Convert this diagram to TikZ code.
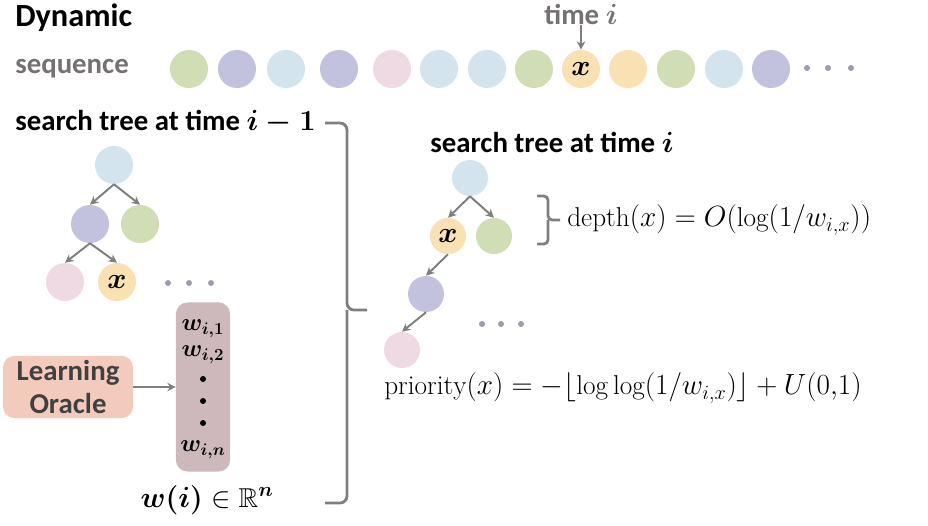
\documentclass[tikz,border=0pt]{standalone}
\usepackage{fontspec}
\setsansfont{Carlito}
\usepackage{amsmath,amssymb}
\usetikzlibrary{arrows.meta}
\definecolor{cgreen}{RGB}{209,221,180}
\definecolor{cpurple}{RGB}{194,193,222}
\definecolor{cblue}{RGB}{212,228,239}
\definecolor{cpink}{RGB}{239,218,228}
\definecolor{cyellow}{RGB}{249,225,180}
\definecolor{cmauve}{RGB}{205,185,187}
\definecolor{cpeach}{RGB}{242,203,189}
\definecolor{txtgray}{RGB}{118,113,113}
\definecolor{linegray}{RGB}{127,127,127}
\definecolor{dotgray}{RGB}{156,156,172}
\tikzset{%
  seqdot/.style  = {circle, inner sep=0pt, minimum size=0.95cm},
  lnode/.style   = {circle, inner sep=0pt, minimum size=0.95cm},
  rnode/.style   = {circle, inner sep=0pt, minimum size=0.9cm},
  tdot/.style    = {circle, inner sep=0pt, minimum size=0.15cm, fill=dotgray},
  wdot/.style    = {circle, inner sep=0pt, minimum size=0.15cm, fill=black},
  lbl/.style     = {font=\sffamily\bfseries\fontsize{20.5}{24}\selectfont, inner sep=0pt},
  arr/.style     = {draw=linegray, line width=1.4pt, -{Stealth[length=6pt, width=6pt]}},
  brace/.style   = {draw=linegray, line width=2pt, rounded corners=5pt},
  formula/.style = {font=\fontsize{19.4}{23}\selectfont, inner sep=0pt},
  wlbl/.style    = {font=\fontsize{17.5}{20}\selectfont, inner sep=0pt}
}
\begin{document}
\begin{tikzpicture}[x=0.025cm, y=-0.025cm]
    \useasboundingbox (0,0) rectangle (928,526);

    %sequence
    \node[lbl, anchor=west, font=\sffamily\bfseries\fontsize{23}{26}\selectfont] (dyn) at (15,18) {Dynamic};
    \node[lbl, anchor=west, text=txtgray] (seqlbl) at (15,69) {sequence};
    \foreach \px/\c [count=\k] in {189/cgreen, 237/cpurple, 286/cblue, 339/cpurple, 392/cpink, 439/cblue,
        487/cblue, 534/cgreen, 581/cyellow, 628/cyellow, 676/cgreen, 724/cblue, 771/cpurple}
        \node[seqdot, fill=\c] (s\k) at (\px,69) {};
    \node[formula] (sx) at (s9) {$\boldsymbol{x}$};
    \foreach \px [count=\k] in {807, 828, 851}
        \node[tdot] (sd\k) at (\px,68) {};
    \node[lbl, text=txtgray] (timelbl) at (581,14) {time $\boldsymbol{i}$};
    \draw[arr] (timelbl) -- (s9);

    %tree at time i-1
    \node[lbl, anchor=west] (ltitle) at (15,122) {search tree at time $\boldsymbol{i-1}$};
    \node[lnode, fill=cblue] (lroot) at (114,165) {};
    \node[lnode, fill=cpurple] (la) at (90,224) {};
    \node[lnode, fill=cgreen] (lb) at (140,224) {};
    \node[lnode, fill=cpink] (lc) at (65,282) {};
    \node[lnode, fill=cyellow] (lx) at (117,282) {};
    \node[formula] (lxt) at (lx) {$\boldsymbol{x}$};
    \foreach \px [count=\k] in {168, 189, 211}
        \node[tdot] (ld\k) at (\px,283) {};
    \draw[arr] (lroot.south) -- (la.north);
    \draw[arr] (lroot.south) -- (lb.north);
    \draw[arr] (la.south) -- (lc.north);
    \draw[arr] (la.south) -- (lx.north);

    %learning oracle and weights
    \node[rounded corners=8pt, fill=cmauve, minimum width=1.35cm, minimum height=4.225cm] (wbox) at (203,387) {};
    \node[wlbl] (w1) at (203,329) {$\boldsymbol{w_{i,1}}$};
    \node[wlbl] (w2) at (203,355) {$\boldsymbol{w_{i,2}}$};
    \node[wdot] (wd1) at (203,379) {};
    \node[wdot] (wd2) at (203,401) {};
    \node[wdot] (wd3) at (203,423) {};
    \node[wlbl] (wn) at (203,450) {$\boldsymbol{w_{i,n}}$};
    \node[lbl, rounded corners=8pt, fill=cpeach, text=black!75, align=center,
        minimum width=3.25cm, minimum height=1.55cm] (oracle) at (68,387) {Learning\\Oracle};
    \draw[arr] (oracle) -- (wbox);
    \node[formula] (wvec) at (207,500) {$\boldsymbol{w(i)} \in \mathbb{R}^{\boldsymbol{n}}$};

    %big bracket
    \draw[brace] (325,123) -| (347,310) -- (367,310);
    \draw[brace] (325,503) -| (347,310);

    %tree at time i
    \node[lbl] (rtitle) at (552,142) {search tree at time $\boldsymbol{i}$};
    \node[rnode, fill=cblue] (rroot) at (470,178) {};
    \node[rnode, fill=cyellow] (rx) at (448,236) {};
    \node[formula] (rxt) at (rx) {$\boldsymbol{x}$};
    \node[rnode, fill=cgreen] (rb) at (494,236) {};
    \node[rnode, fill=cpurple] (rc) at (426,294) {};
    \node[rnode, fill=cpink] (rd) at (402,350) {};
    \foreach \px [count=\k] in {482, 501, 521}
        \node[tdot] (rdt\k) at (\px,324) {};
    \draw[arr] (rroot.south) -- (rx.north);
    \draw[arr] (rroot.south) -- (rb.north);
    \draw[arr] (rx.south) -- (rc.north);
    \draw[arr] (rc.south) -- (rd.north);

    %depth bracket
    \draw[brace, rounded corners=3pt] (537,196) -| (548,220) -- (560,220);
    \draw[brace, rounded corners=3pt] (537,244) -| (548,220);
    \node[formula, anchor=west] (depth) at (567,220) {$\operatorname{depth}(x) = O(\log(1/w_{i,x}))$};

    %priority
    \node[formula, anchor=west] (prio) at (384,388) {$\operatorname{priority}(x) = -\lfloor \log\log(1/w_{i,x}) \rfloor + U(0{,}1)$};
\end{tikzpicture}
\end{document}
